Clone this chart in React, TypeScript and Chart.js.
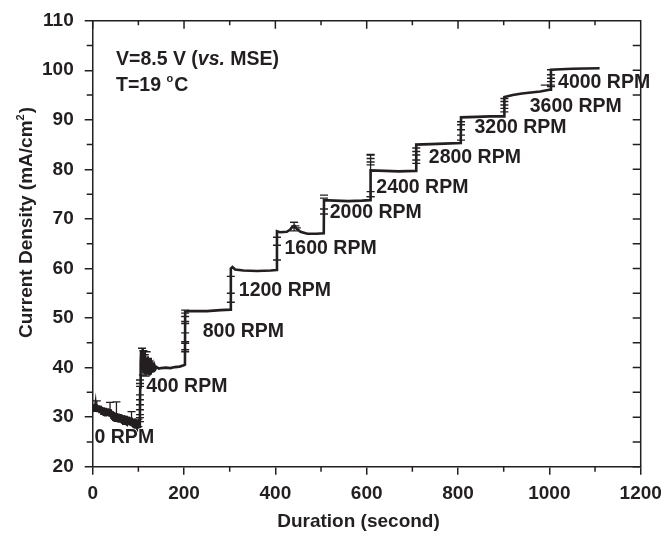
import React, { useEffect, useRef } from "react";
import { Chart, registerables } from "chart.js";

Chart.register(...registerables);

// ---- data ----
const time = [
  0, 1, 2, 3, 4, 5, 6, 7, 8, 9, 10, 11, 12, 13, 14, 15, 16, 17, 18, 19,
  20, 21, 22, 23, 24, 25, 26, 27, 28, 29, 30, 31, 32, 33, 34, 35, 36, 37, 38, 39,
  40, 41, 42, 43, 44, 45, 46, 47, 48, 49, 50, 51, 52, 53, 54, 55, 56, 57, 58, 59,
  60, 61, 62, 63, 64, 65, 66, 67, 68, 69, 70, 71, 72, 73, 74, 75, 76, 77, 78, 79,
  80, 81, 82, 83, 84, 85, 86, 87, 88, 89, 90, 91, 92, 93, 94, 95, 96, 97, 98, 99,
  100, 101, 102, 103,
  103.5, 104, 105, 106, 107, 108, 109, 110, 111, 112, 113, 114, 115, 116, 117, 118,
  119, 120, 121, 122, 123, 124, 125, 126, 127, 128, 129, 130, 131, 132, 133, 134,
  135, 136, 138, 140, 145, 150, 160, 170, 180, 190, 198, 202,
  202.5, 210, 250, 280, 302,
  302.5, 306, 312, 330, 360, 390, 403,
  403.5, 410, 425, 432, 437, 442, 447, 455, 470, 490, 506,
  506.5, 530, 560, 590, 608,
  608.5, 640, 670, 708,
  708.5, 740, 770, 806,
  806.5, 840, 870, 901,
  901.5, 920, 940, 960, 980, 1003,
  1003.5, 1050, 1110,
];
const current = [
  32.6, 31.4, 32.6, 31.3, 32.7, 31.5, 32.5, 31.2, 32.6, 31.1,
  32.4, 31.0, 32.4, 31.1, 32.2, 30.8, 32.3, 30.9, 32.1, 30.7,
  32.1, 30.8, 32.0, 30.6, 32.0, 30.5, 31.9, 30.4, 31.9, 30.5,
  31.8, 30.4, 31.8, 30.2, 31.7, 30.3, 31.6, 30.1, 31.6, 30.0,
  31.4, 29.9, 31.3, 29.7, 31.2, 29.5, 31.0, 29.4, 30.9, 29.3,
  30.9, 29.4, 30.8, 29.1, 30.6, 29.0, 30.7, 28.9, 30.5, 29.0,
  30.6, 28.9, 30.4, 28.8, 30.5, 28.9, 30.3, 28.7, 30.4, 28.8,
  30.3, 28.7, 30.2, 28.6, 30.3, 28.5, 30.0, 28.5, 30.1, 28.4,
  30.0, 28.4, 29.9, 28.3, 29.8, 28.2, 29.9, 28.3, 29.7, 28.1,
  29.6, 28.0, 29.7, 27.9, 29.5, 28.0, 29.4, 27.8, 29.3, 27.7,
  29.1, 27.8, 28.9, 27.8,
  29.0, 36.0, 41.0, 43.5, 39.5, 42.8, 40.2, 43.8, 39.0, 42.5, 40.5, 43.2, 39.3,
  42.0, 38.8, 41.8, 39.5, 42.3, 38.6, 41.5, 39.2, 41.0, 38.4, 42.0, 38.6, 41.5,
  38.9, 41.0, 39.0, 40.8, 39.3, 40.5, 39.5, 40.3,
  39.8, 40.1, 39.8, 39.9, 40.0, 39.9, 40.1, 40.2, 40.4, 40.6,
  51.3, 51.4, 51.4, 51.6, 51.7,
  60.0, 60.3, 59.8, 59.6, 59.5, 59.6, 59.7,
  67.5, 67.3, 67.4, 67.8, 68.4, 68.6, 68.0, 67.4, 67.0, 67.0, 67.1,
  73.8, 73.7, 73.6, 73.7, 73.8,
  79.8, 79.7, 79.6, 79.7,
  85.0, 85.1, 85.2, 85.3,
  90.5, 90.6, 90.7, 90.7,
  94.6, 95.0, 95.3, 95.5, 95.7, 96.1,
  100.1, 100.3, 100.4,
];

// horizontal bar marks (error-bar caps) along the steps
const markX = [
  103.5, 103.5, 103.5, 103.5, 103.5, 103.5, 103.5, 103.5, 103.5, 103.5,
  108, 111, 114, 118, 110, 116, 121,
  202.5, 202.5, 202.5, 202.5, 202.5, 202.5, 202.5, 202.5, 202.5, 202.5,
  302.5, 302.5, 302.5,
  403.5, 403.5, 403.5,
  441, 444, 447,
  506.5, 506.5, 506.5, 506.5,
  608.5, 608.5, 608.5, 608.5, 608.5, 608.5,
  708.5, 708.5, 708.5, 708.5, 708.5,
  806.5, 806.5, 806.5, 806.5, 806.5,
  901.5, 901.5, 901.5, 901.5, 901.5,
  1003.5, 1003.5, 1003.5, 1003.5, 1003.5, 1003.5, 990,
];
const markY = [
  37.5, 36.8, 36.2, 34.5, 33.5, 32.5, 31.5, 30.5, 29.9, 29.1,
  43.9, 43.4, 42.6, 43.2, 38.5, 38.3, 38.8,
  51.6, 51.0, 50.3, 49.3, 48.9, 47.0, 45.2, 44.9, 43.6, 43.2,
  58.4, 55.0, 53.2,
  66.3, 64.7, 61.7,
  69.3, 68.6, 68.2,
  74.8, 74.2, 72.0, 71.0,
  82.9, 82.2, 81.5, 80.9, 75.5, 74.5,
  84.3, 83.6, 82.9, 81.9, 81.2,
  89.6, 89.0, 88.0, 86.9, 85.9,
  94.3, 93.7, 93.0, 92.3, 91.6,
  100.1, 99.1, 98.4, 97.7, 97.0, 96.7, 97.0,
];

// capped error bars (vertical bar + caps)
const errX = [9, 38, 52, 85, 100, 441, 608.5];
const errLo = [31.2, 30.6, 30.0, 29.0, 28.1, 67.6, 74.5];
const errHi = [33.3, 33.0, 33.1, 31.1, 29.6, 69.3, 83.0];

// step labels
const rpmLabels = [
  "0 RPM", "400 RPM", "800 RPM", "1200 RPM", "1600 RPM", "2000 RPM",
  "2400 RPM", "2800 RPM", "3200 RPM", "3600 RPM", "4000 RPM",
];
const rpmX = [4, 117, 241, 320, 420, 519, 621, 736, 836, 957, 1019];
const rpmY = [26.0, 36.4, 47.4, 55.8, 64.2, 71.4, 76.5, 82.6, 88.6, 92.9, 97.7];

const xMin = 0, xMax = 1200, xStep = 200, xMinorStep = 100;
const yMin = 20, yMax = 110, yStep = 10, yMinorStep = 5;

const INK = "#231f20";
const FONT = "'Liberation Sans', Arial, Helvetica, sans-serif";

const framePlugin = {
  id: "frame",
  afterDraw(chart: any) {
    const { ctx, chartArea: a, scales } = chart;
    const x = scales.x, y = scales.y;
    ctx.save();
    ctx.strokeStyle = INK;
    ctx.lineWidth = 1.5;
    ctx.beginPath();
    ctx.moveTo(a.left, a.top);
    ctx.lineTo(a.right, a.top);
    ctx.lineTo(a.right, a.bottom);
    for (let v = xMin; v <= xMax; v += xMinorStep) {
      const px = x.getPixelForValue(v);
      const major = v % xStep === 0;
      if (!major) {
        ctx.moveTo(px, a.bottom);
        ctx.lineTo(px, a.bottom + 5);
      }
      ctx.moveTo(px, a.top);
      ctx.lineTo(px, a.top + (major ? 8 : 4.5));
    }
    for (let v = yMin; v <= yMax; v += yMinorStep) {
      const py = y.getPixelForValue(v);
      if (v % yStep !== 0) {
        ctx.moveTo(a.left, py);
        ctx.lineTo(a.left - 6, py);
      }
      ctx.moveTo(a.right, py);
      ctx.lineTo(a.right - 8, py);
    }
    ctx.stroke();
    ctx.restore();
  },
};

const errorBarPlugin = {
  id: "errbars",
  afterDatasetsDraw(chart: any) {
    const { ctx, scales } = chart;
    const x = scales.x, y = scales.y;
    ctx.save();
    ctx.strokeStyle = INK;
    ctx.lineWidth = 1.3;
    ctx.beginPath();
    errX.forEach((xv, i) => {
      const px = x.getPixelForValue(xv);
      const lo = y.getPixelForValue(errLo[i]);
      const hi = y.getPixelForValue(errHi[i]);
      ctx.moveTo(px, lo);
      ctx.lineTo(px, hi);
      ctx.moveTo(px - 4, hi);
      ctx.lineTo(px + 4, hi);
      ctx.moveTo(px - 4, lo);
      ctx.lineTo(px + 4, lo);
    });
    ctx.stroke();
    ctx.restore();
  },
};

const textPlugin = {
  id: "texts",
  afterDraw(chart: any) {
    const { ctx, scales } = chart;
    const x = scales.x, y = scales.y;
    ctx.save();
    ctx.fillStyle = INK;
    // step labels
    ctx.font = `bold 19.5px ${FONT}`;
    ctx.textAlign = "left";
    ctx.textBaseline = "middle";
    rpmLabels.forEach((t, i) => {
      ctx.fillText(t, x.getPixelForValue(rpmX[i]), y.getPixelForValue(rpmY[i]) + 1);
    });

    // condition annotation
    ctx.textBaseline = "alphabetic";
    let cx = 116;
    let by = 65;
    const bold = `bold 19.5px ${FONT}`;
    const boldItalic = `italic bold 19.5px ${FONT}`;
    const parts: [string, string][] = [
      ["V=8.5 V (", bold],
      ["vs.", boldItalic],
      [" MSE)", bold],
    ];
    parts.forEach(([t, f]) => {
      ctx.font = f;
      ctx.fillText(t, cx, by);
      cx += ctx.measureText(t).width;
    });
    cx = 116;
    by = 91;
    ctx.font = bold;
    ctx.fillText("T=19 ", cx, by);
    cx += ctx.measureText("T=19 ").width;
    ctx.font = `bold 11px ${FONT}`;
    ctx.fillText("o", cx, by - 9);
    cx += ctx.measureText("o").width + 1;
    ctx.font = bold;
    ctx.fillText("C", cx, by);

    // x axis title
    ctx.font = `bold 19px ${FONT}`;
    ctx.textAlign = "center";
    ctx.fillText("Duration (second)", 358.5, 527);

    // y axis title with superscript
    ctx.save();
    ctx.translate(31.5, 222.5);
    ctx.rotate(-Math.PI / 2);
    const main = "Current Density (mA/cm";
    ctx.font = `bold 19px ${FONT}`;
    const wMain = ctx.measureText(main).width;
    ctx.font = `bold 11px ${FONT}`;
    const wSup = ctx.measureText("2").width;
    ctx.font = `bold 19px ${FONT}`;
    const wEnd = ctx.measureText(")").width;
    const total = wMain + wSup + 1 + wEnd;
    let tx = -total / 2;
    ctx.textAlign = "left";
    ctx.fillText(main, tx, 0);
    tx += wMain;
    ctx.font = `bold 11px ${FONT}`;
    ctx.fillText("2", tx, -8);
    tx += wSup + 1;
    ctx.font = `bold 19px ${FONT}`;
    ctx.fillText(")", tx, 0);
    ctx.restore();

    ctx.restore();
  },
};

export default function App() {
  const ref = useRef<HTMLCanvasElement | null>(null);

  useEffect(() => {
    document.body.style.margin = "0";
    const canvas = ref.current;
    if (!canvas) return;
    const tickFont = { family: FONT, size: 19, weight: "bold" as const };
    const chart = new Chart(canvas, {
      type: "line",
      data: {
        datasets: [
          {
            type: "line",
            data: time.map((t, i) => ({ x: t, y: current[i] })),
            borderColor: INK,
            borderWidth: 2.6,
            pointRadius: 0,
            tension: 0,
            fill: false,
          },
          {
            type: "scatter",
            data: markX.map((t, i) => ({ x: t, y: markY[i] })),
            pointStyle: "line",
            pointRadius: 4,
            pointBorderWidth: 1.4,
            borderColor: INK,
            backgroundColor: INK,
            showLine: false,
          } as any,
        ],
      },
      options: {
        responsive: false,
        animation: false,
        devicePixelRatio: 1,
        layout: { padding: { top: 20.7, right: 24.3, left: 0, bottom: 0 } },
        plugins: {
          legend: { display: false },
          tooltip: { enabled: false },
          title: { display: false },
        },
        scales: {
          x: {
            type: "linear",
            min: xMin,
            max: xMax,
            ticks: {
              stepSize: xStep,
              font: tickFont,
              color: INK,
              padding: 8,
              maxRotation: 0,
              callback: (v: any) => String(v),
            },
            grid: {
              drawOnChartArea: false,
              drawTicks: true,
              tickLength: 8,
              color: INK,
              lineWidth: 1.5,
            },
            border: { display: true, color: INK, width: 1.5 },
            afterFit: (s: any) => {
              s.height = 536 - 466.7;
              s.paddingLeft = 0;
              s.paddingRight = 0;
            },
          },
          y: {
            type: "linear",
            min: yMin,
            max: yMax,
            ticks: {
              stepSize: yStep,
              font: tickFont,
              color: INK,
              padding: 11,
            },
            grid: {
              drawOnChartArea: false,
              drawTicks: true,
              tickLength: 8,
              color: INK,
              lineWidth: 1.5,
            },
            border: { display: true, color: INK, width: 1.5 },
            afterFit: (s: any) => {
              s.width = 92.7;
              s.paddingTop = 0;
              s.paddingBottom = 0;
            },
          },
        },
      },
      plugins: [errorBarPlugin, framePlugin, textPlugin],
    });
    return () => chart.destroy();
  }, []);

  return (
    <div style={{ width: 665, height: 536 }}>
      <canvas ref={ref} width={665} height={536} style={{ display: "block" }} />
    </div>
  );
}
